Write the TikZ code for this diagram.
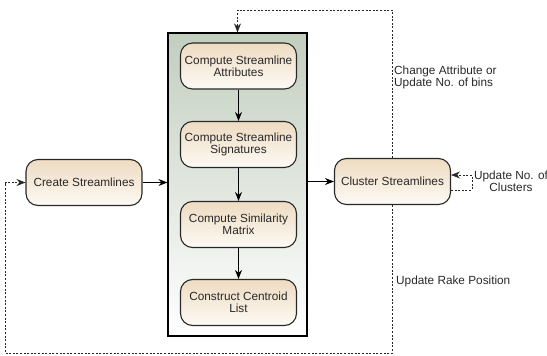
\documentclass[tikz,border=0pt]{standalone}
\usepackage{fontspec}
\setmainfont{Liberation Sans}
\usepackage{tikz}
\usetikzlibrary{arrows, arrows.meta}
\usetikzlibrary{positioning}
\definecolor{boxtop}{RGB}{238,219,193}
\definecolor{boxbot}{RGB}{253,250,245}
\definecolor{stagetop}{RGB}{194,206,190}
\definecolor{inkgray}{RGB}{40,40,40}

\begin{document}
\begin{tikzpicture}[x=1pt,y=-1pt]
\tikzstyle{every node}+=[inner sep=0pt, font=\fontsize{11.8}{12}\selectfont, text=inkgray]
\tikzstyle{task}=[draw=inkgray, line width=1.1pt, rounded corners=12pt, top color=boxtop, bottom color=boxbot, minimum width=116pt, minimum height=46pt, align=center]
\tikzstyle{flow}=[draw=black, line width=0.9pt, -{Stealth[length=9pt,width=7pt,inset=3pt]}]
\tikzstyle{back}=[draw=inkgray, line width=0.8pt, dash pattern=on 2pt off 1.6pt]
\tikzstyle{backarrow}=[back, -{Stealth[length=9pt,width=7pt,inset=3pt]}]
\useasboundingbox (0,0) rectangle (547,356);
\node [draw=black, line width=1.2pt, top color=stagetop, bottom color=white, minimum width=139pt, minimum height=303pt] (stage) at (237.5,184.5) {};
\node [task] (create) at (84,182.5) {Create Streamlines};
\node [task] (attr) at (238.5,66) {Compute Streamline\\Attributes};
\node [task] (sig) at (238.5,144.5) {Compute Streamline\\Signatures};
\node [task] (sim) at (238.5,224.5) {Compute Similarity\\Matrix};
\node [task] (cent) at (238.5,302.5) {Construct Centroid\\List};
\node [task] (clus) at (392.5,181.5) {Cluster Streamlines};
\draw [flow] (create.east) -- (create.east -| stage.west);
\draw [flow] (stage.east |- clus.west) -- (clus.west);
\draw [flow] (attr) -- (sig);
\draw [flow] (sig) -- (sim);
\draw [flow] (sim) -- (cent);
% feedback loops
\coordinate (topturn) at (392.5,10);
\coordinate (lowturn) at (5,353);
\coordinate (selfturn) at (472,181.5);
\draw [backarrow] (clus.north) -- (topturn) -| (stage.north);
\draw [backarrow] (clus.south) |- (lowturn) |- (create.west);
\draw [backarrow] ([yshift=-8.5pt]clus.east) -| ([yshift=6.5pt]selfturn) -- ([yshift=6.5pt]clus.east);
\node [anchor=west, align=left] (attrnote) at (394,77) {Change Attribute or\\Update No. of bins};
\node [align=center] (clusnote) at (511,181.5) {Update No. of\\Clusters};
\node [anchor=west] (rakenote) at (396,281) {Update Rake Position};
\end{tikzpicture}
\end{document}
